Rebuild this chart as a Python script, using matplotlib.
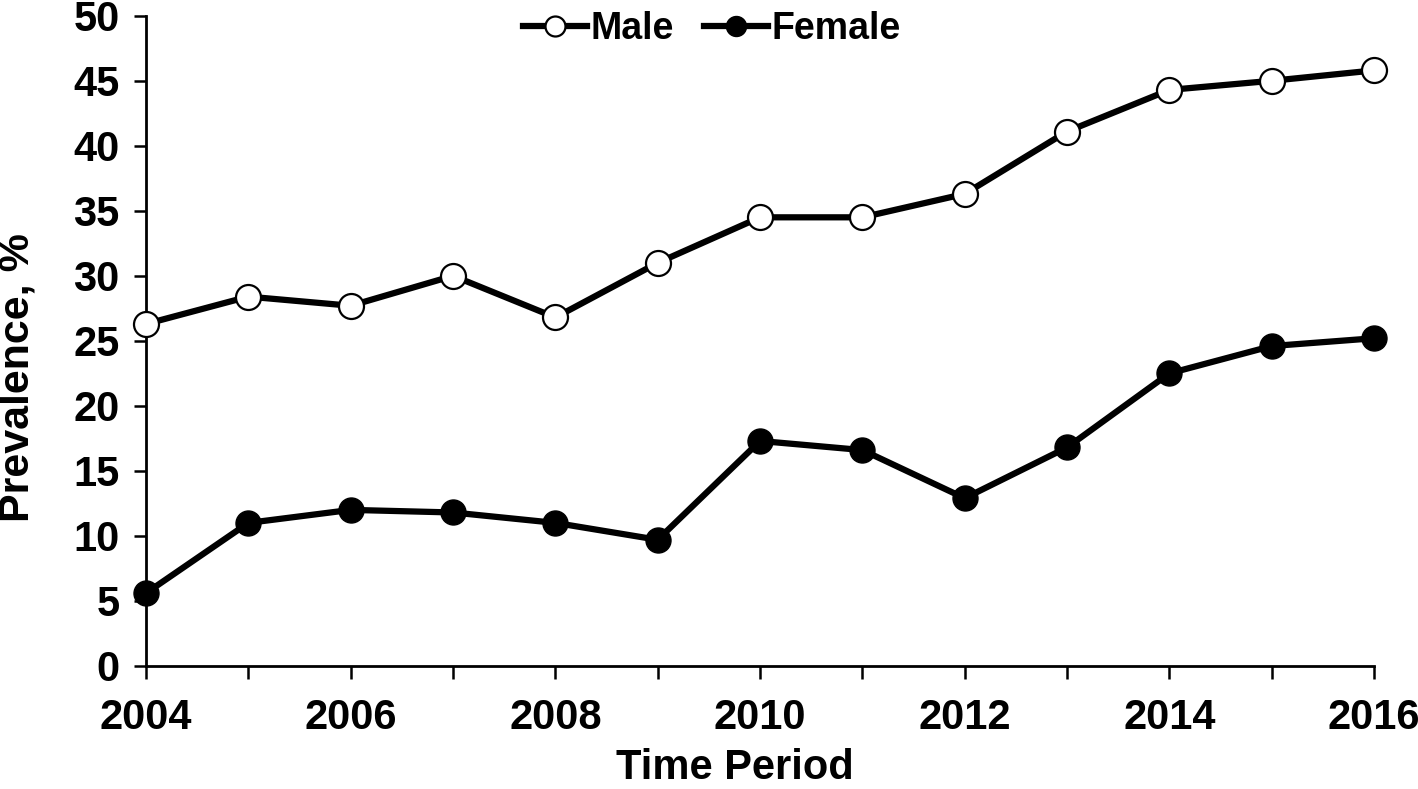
import matplotlib.pyplot as plt

years = [2004, 2005, 2006, 2007, 2008, 2009, 2010, 2011, 2012, 2013, 2014, 2015, 2016]
male = [26.3, 28.4, 27.7, 30.0, 26.8, 31.0, 34.5, 34.5, 36.3, 41.1, 44.3, 45.0, 45.8]
female = [5.6, 11.0, 12.0, 11.8, 11.0, 9.7, 17.3, 16.6, 12.9, 16.8, 22.5, 24.6, 25.2]
x_labels = ["2004", "2006", "2008", "2010", "2012", "2014", "2016"]

plt.rcParams['font.family'] = ['Liberation Sans', 'DejaVu Sans']
plt.rcParams['font.weight'] = 'bold'

W, H = 1418, 789
fig = plt.figure(figsize=(W / 100, H / 100), dpi=100)
ax = fig.add_axes([0.103, 0.156, 0.866, 0.824])

# male: open circles, female: filled circles
ax.plot(years, male, color='black', lw=4.5, marker='o', ms=18,
        mfc='white', mec='black', mew=1.6, label='Male', clip_on=False, zorder=3)
ax.plot(years, female, color='black', lw=4.5, marker='o', ms=18,
        mfc='black', mec='black', label='Female', clip_on=False, zorder=3)

ax.set_xlim(2004, 2016)
ax.set_ylim(0, 50)
ax.set_xticks(years)
ax.set_xticklabels([y if y in x_labels else "" for y in map(str, years)])
ax.set_yticks(range(0, 51, 5))

for s in ['top', 'right']:
    ax.spines[s].set_visible(False)
for s in ['left', 'bottom']:
    ax.spines[s].set_linewidth(2)

ax.tick_params(axis='y', direction='out', length=9, width=1.8,
               labelsize=30, pad=10)
ax.tick_params(axis='x', direction='out', length=9, width=1.8,
               labelsize=30, pad=14)
for lab in ax.get_xticklabels() + ax.get_yticklabels():
    lab.set_fontweight('bold')

# axis titles placed where the reference has them
fig.text(735 / W, 1 - 768 / H, "Time Period", fontsize=30, fontweight='bold',
         ha='center', va='center')
fig.text(18 / W, 1 - 378 / H, "Prevalence, %", fontsize=31, fontweight='bold',
         ha='center', va='center', rotation=90)

leg = fig.legend(loc='center', bbox_to_anchor=(712 / W, 1 - 29 / H), ncol=2,
                 frameon=False, fontsize=27, handlelength=1.7, handletextpad=0.1,
                 columnspacing=0.8, markerscale=0.8)
for t in leg.get_texts():
    t.set_fontweight('bold')

fig.savefig("out.png", dpi=100)
